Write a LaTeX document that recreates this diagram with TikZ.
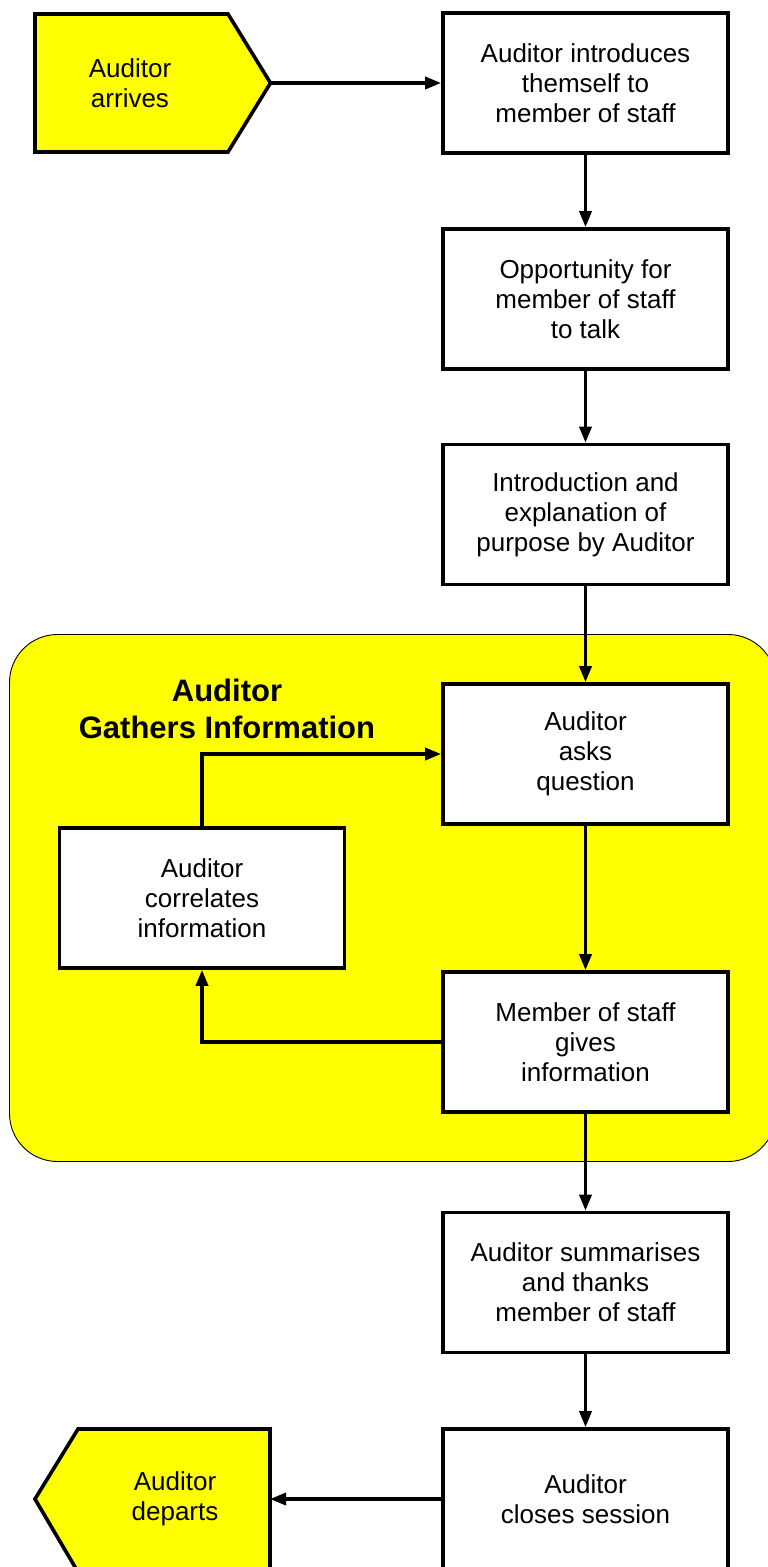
\documentclass[tikz,border=0pt]{standalone}
\usepackage{fontspec}
\setmainfont{Liberation Sans}
\usetikzlibrary{arrows.meta}
\definecolor{flagyellow}{RGB}{255,255,0}
\tikzset{
  stepbox/.style={draw=black, line width=3.6pt, fill=white, minimum width=285pt, minimum height=140pt,
    align=center, inner sep=0pt, font=\fontsize{26}{30}\selectfont},
  flag/.style={draw=black, line width=3.6pt, fill=flagyellow, line join=miter},
  flagtext/.style={align=center, inner sep=0pt, font=\fontsize{26}{30}\selectfont},
  conn/.style={line width=3.4pt, -{Triangle[length=16pt,width=12pt]}},
  grouparea/.style={draw=black, line width=0.9pt, fill=flagyellow, rounded corners=48pt,
    minimum width=766.5pt, minimum height=527pt, inner sep=0pt},
  grouptitle/.style={align=center, inner sep=0pt, font=\fontsize{31}{37}\selectfont\bfseries}
}
\begin{document}
\begin{tikzpicture}[x=1pt,y=-1pt]
\useasboundingbox (0,0) rectangle (768,1567);
\fill[white] (0,0) rectangle (768,1567);

% group area
\node[grouparea] (grp) at (392.75,898) {};
\node[grouptitle] (title) at (227,708.5) {Auditor\\Gathers Information};

% start flag
\draw[flag] (35,14) -- (228,14) -- (270.5,83) -- (228,152) -- (35,152) -- cycle;
\coordinate (arrtip) at (270.5,83);
\node[flagtext] (arrives) at (130,83) {Auditor\\arrives};

% end flag
\draw[flag] (78,1429) -- (270,1429) -- (270,1572) -- (78,1572) -- (35,1499) -- cycle;
\coordinate (depR) at (270,1499);
\node[flagtext] (departs) at (175,1499) {Auditor\\departs};

% boxes
\node[stepbox] (b1) at (585.5,83) {Auditor introduces\\themself to\\member of staff};
\node[stepbox] (b2) at (585.5,299) {Opportunity for\\member of staff\\to talk};
\node[stepbox] (b3) at (585.5,514.5) {Introduction and\\explanation of\\purpose by Auditor};
\node[stepbox] (b4) at (585.5,754) {Auditor\\asks\\question};
\node[stepbox] (b5) at (202,898) {Auditor\\correlates\\information};
\node[stepbox] (b6) at (585.5,1042) {Member of staff\\gives\\information};
\node[stepbox] (b7) at (585.5,1282.5) {Auditor summarises\\and thanks\\member of staff};
\node[stepbox] (b8) at (585.5,1499) {Auditor\\closes session};

% connectors
\draw[conn] (arrtip) -- (b1.west);
\draw[conn] (b1.south) -- (b2.north);
\draw[conn] (b2.south) -- (b3.north);
\draw[conn] (b3.south) -- (b4.north);
\draw[conn] (b4.south) -- (b6.north);
\draw[conn] (b6.west) -| (b5.south);
\draw[conn] (b5.north) |- (b4.west);
\draw[conn] (b6.south) -- (b7.north);
\draw[conn] (b7.south) -- (b8.north);
\draw[conn] (b8.west) -- (depR);
\end{tikzpicture}
\end{document}
